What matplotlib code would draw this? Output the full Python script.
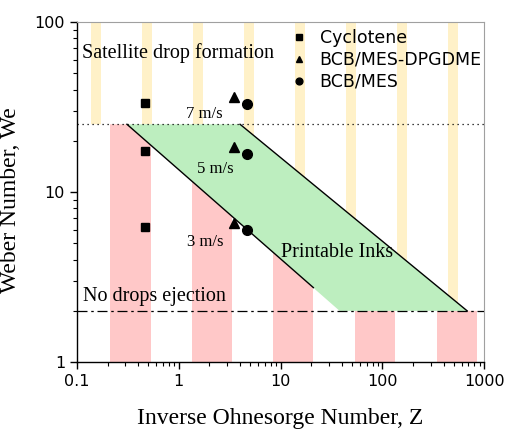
import numpy as np
import matplotlib
matplotlib.use("Agg")
import matplotlib.pyplot as plt
from matplotlib.patches import Polygon
from matplotlib.ticker import FixedLocator, FuncFormatter, LogLocator, NullFormatter

# --- data -----------------------------------------------------------------
# background stripes (Z ranges)
red_left   = [0.21, 1.34, 8.4, 53.5, 343]
red_right  = [0.53, 3.3, 21, 133, 853]
yel_left   = [0.137, 0.44, 1.39, 4.4, 13.9, 44, 139, 440]
yel_right  = [0.171, 0.55, 1.73, 5.5, 17.3, 55, 173, 550]

we_upper = 25      # satellite drop limit
we_lower = 2       # no-ejection limit

# printable region corners (Z, We)
region_z  = [0.31, 4.0, 680, 38]
region_we = [25, 25, 2, 2]
# black boundary segments
lower_line_z,  lower_line_we = [0.31, 21], [25, 2.74]
upper_line_z,  upper_line_we = [4.0, 680], [25, 2]

# measured inks
cyc_z,  cyc_we  = [0.47, 0.47, 0.47], [33.4, 17.3, 6.2]
dpg_z,  dpg_we  = [3.45, 3.45, 3.45], [36.2, 18.5, 6.6]
mes_z,  mes_we  = [4.65, 4.65, 4.65], [32.8, 16.7, 6.0]

serif = ["Liberation Serif", "DejaVu Serif"]

fig = plt.figure(figsize=(5.06, 4.29), dpi=100)
ax = fig.add_axes([0.152, 0.156, 0.805, 0.793])
ax.set_xscale("log"); ax.set_yscale("log")
ax.set_xlim(0.1, 1000); ax.set_ylim(1, 100)

# yellow stripes above the upper boundary
yl = np.array(yel_left); yr = np.array(yel_right)
ybars = ax.bar(yl, 100 - 1, width=yr - yl, bottom=1, align="edge",
               color="#fff1c8", lw=0, zorder=1)
yclip = Polygon([(0.1, 100), (0.1, we_upper), (region_z[1], region_we[1]),
                 (region_z[2], region_we[2]), (1000, we_lower), (1000, 100)],
                transform=ax.transData)
for b in ybars:
    b.set_clip_path(yclip)

# red stripes below the lower boundary
rl = np.array(red_left); rr = np.array(red_right)
rbars = ax.bar(rl, 100 - 1, width=rr - rl, bottom=1, align="edge",
               color="#ffc8c8", lw=0, zorder=1)
rclip = Polygon([(0.1, 1), (0.1, we_upper), (region_z[0], region_we[0]),
                 (region_z[3], region_we[3]), (1000, we_lower), (1000, 1)],
                transform=ax.transData)
for b in rbars:
    b.set_clip_path(rclip)

# printable region
ax.add_patch(Polygon(list(zip(region_z, region_we)), closed=True,
                     facecolor="#bdeebf", edgecolor="none", zorder=2))
ax.plot(lower_line_z, lower_line_we, color="k", lw=1, zorder=3)
ax.plot(upper_line_z, upper_line_we, color="k", lw=1, zorder=3)

ax.axhline(we_upper, color="k", lw=0.9, ls=(0, (1, 3)), zorder=3)
ax.axhline(we_lower, color="k", lw=0.9, ls=(0, (8, 3, 2, 3)), zorder=3)

ax.plot(cyc_z, cyc_we, "s", color="k", ms=6.3, ls="none", label="Cyclotene", zorder=4)
ax.plot(dpg_z, dpg_we, "^", color="k", ms=7, ls="none", label="BCB/MES-DPGDME", zorder=4)
ax.plot(mes_z, mes_we, "o", color="k", ms=7, ls="none", label="BCB/MES", zorder=4)

leg = ax.legend(loc="upper left", bbox_to_anchor=(0.485, 1.025), frameon=False,
                markerscale=0.7, handlelength=1.0, handletextpad=0.7,
                labelspacing=0.22, prop={"family": "DejaVu Sans", "size": 12.5})

ax.text(0.112, 65.8, "Satellite drop formation", family=serif, fontsize=14.5,
        ha="left", va="center", zorder=5)
ax.text(0.115, 2.44, "No drops ejection", family=serif, fontsize=14.5,
        ha="left", va="center", zorder=5)
ax.text(35.9, 4.38, "Printable Inks", family=serif, fontsize=14.5,
        ha="center", va="center", zorder=5)
ax.text(1.77, 28.6, "7 m/s", family=serif, fontsize=12, ha="center", va="center", zorder=5)
ax.text(2.27, 13.6, "5 m/s", family=serif, fontsize=12, ha="center", va="center", zorder=5)
ax.text(1.81, 5.08, "3 m/s", family=serif, fontsize=12, ha="center", va="center", zorder=5)

# axes cosmetics
fmt = FuncFormatter(lambda v, p: f"{v:g}")
ax.xaxis.set_major_locator(FixedLocator([0.1, 1, 10, 100, 1000]))
ax.yaxis.set_major_locator(FixedLocator([1, 10, 100]))
ax.xaxis.set_major_formatter(fmt); ax.yaxis.set_major_formatter(fmt)
ax.xaxis.set_minor_locator(LogLocator(base=10, subs=np.arange(2, 10)))
ax.yaxis.set_minor_locator(LogLocator(base=10, subs=np.arange(2, 10)))
ax.xaxis.set_minor_formatter(NullFormatter()); ax.yaxis.set_minor_formatter(NullFormatter())
ax.tick_params(which="major", direction="out", length=5, width=1, labelsize=11.5,
               top=False, right=False)
ax.tick_params(which="minor", direction="out", length=3, width=0.8,
               top=False, right=False)
for lab in ax.get_xticklabels() + ax.get_yticklabels():
    lab.set_family("DejaVu Sans")
for s in ("top", "right"):
    ax.spines[s].set_color("#a0a0a0")
for s in ("left", "bottom"):
    ax.spines[s].set_linewidth(1.0)

ax.set_xlabel("Inverse Ohnesorge Number, Z", family=serif, fontsize=17, labelpad=14)
ax.set_ylabel("Weber Number, We", family=serif, fontsize=17)
ax.yaxis.set_label_coords(-0.137, 0.475)

fig.savefig("out.png", dpi=100)
